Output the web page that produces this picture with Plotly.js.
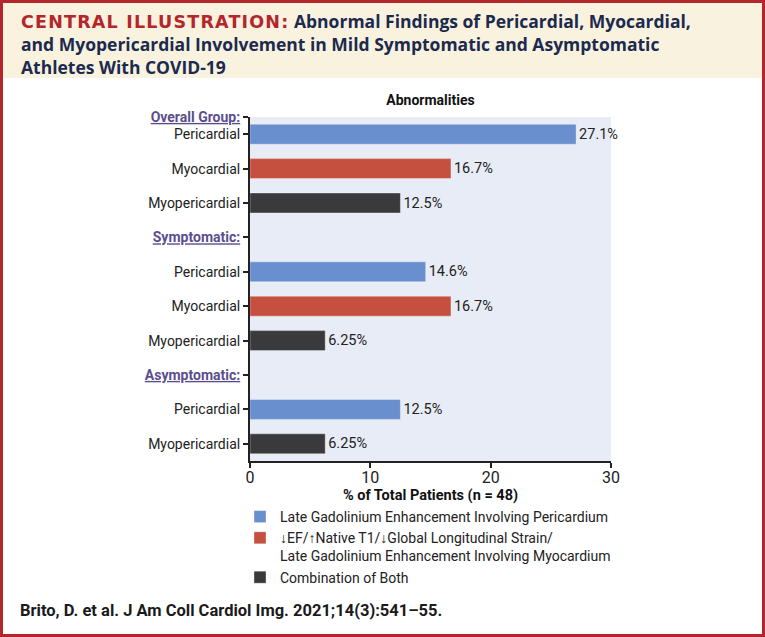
<!DOCTYPE html>
<html>
<head>
<meta charset="utf-8">
<script src="https://cdn.plot.ly/plotly-3.0.1.min.js"></script>
<style>
  html, body { margin: 0; padding: 0; background: #ffffff; }
  #frame { position: relative; width: 765px; height: 637px; box-sizing: border-box; border: 3px solid #b3262c; background: #ffffff; overflow: hidden; }
  #band { position: absolute; left: 0; top: 0; width: 759px; height: 75px; background: #f8f2df; }
  #chart { position: absolute; left: -3px; top: -3px; width: 765px; height: 637px; }
</style>
</head>
<body>
<div id="frame"><div id="band"></div><div id="chart"></div></div>
<script>
// ---- data ----
const rowLabels = ['Overall Group:', 'Pericardial', 'Myocardial', 'Myopericardial',
                   'Symptomatic:', 'Pericardial', 'Myocardial', 'Myopericardial',
                   'Asymptomatic:', 'Pericardial', 'Myopericardial'];
const rowIsHeader = [true, false, false, false, true, false, false, false, true, false, false];
const rowSeries = [null, 'peri', 'myo', 'comb', null, 'peri', 'myo', 'comb', null, 'peri', 'comb'];
const rowValues = [null, 27.1, 16.7, 12.5, null, 14.6, 16.7, 6.25, null, 12.5, 6.25];

const seriesKeys = ['peri', 'myo', 'comb'];
const seriesNames = ['Late Gadolinium Enhancement Involving Pericardium',
                     '↓EF/↑Native T1/↓Global Longitudinal Strain/<br>Late Gadolinium Enhancement Involving Myocardium',
                     'Combination of Both'];
const seriesColors = ['#6a8fce', '#c5503f', '#3a3a3c'];

const xTicks = [0, 10, 20, 30];
const titleText = 'Abnormalities';
const xTitle = '% of Total Patients (n = 48)';
const headerRed = 'CENTRAL ILLUSTRATION:';
const headerLines = ['Abnormal Findings of Pericardial, Myocardial,',
                     'and Myopericardial Involvement in Mild Symptomatic and Asymptomatic',
                     'Athletes With COVID-19'];
const footerText = 'Brito, D. et al. J Am Coll Cardiol Img. 2021;14(3):541–55.';

// ---- layout geometry ----
const W = 765, H = 637;
const M = {l: 250, r: 154, t: 117, b: 176};
const plotW = W - M.l - M.r, plotH = H - M.t - M.b;
const xp = px => (px - M.l) / plotW;
const yp = py => (H - M.b - py) / plotH;

// row positions: first header sits on the top edge of the axis
const rowPos = rowLabels.map((_, i) => Math.max(i - 1, -0.5));

const traces = seriesKeys.map((key, s) => {
  const ys = [], xs = [], txt = [];
  rowSeries.forEach((k, i) => {
    if (k === key) { ys.push(rowPos[i]); xs.push(rowValues[i]); txt.push(rowValues[i] + '%'); }
  });
  return {
    type: 'bar', orientation: 'h', x: xs, y: ys, name: seriesNames[s],
    marker: {color: seriesColors[s], line: {color: 'rgba(255,255,255,0.35)', width: 1}},
    width: 0.58, text: txt, textposition: 'outside', cliponaxis: false,
    textfont: {family: 'Roboto, sans-serif', size: 14.5, color: '#222'},
    hoverinfo: 'x+y'
  };
});

const tickText = rowLabels.map((t, i) => rowIsHeader[i]
  ? '<span style="color:#5a4e8e"><b><u>' + t + '</u></b></span>' : t);

const font = 'Roboto, "Open Sans", sans-serif';
const headerHtml = '<b><span style="color:#b3262c;font-family:\'DejaVu Sans\';letter-spacing:1.2px">' +
  headerRed + '</span> ' + headerLines.join('<br>') + '</b>';
const annotations = [
  {
    xref: 'paper', yref: 'paper', x: xp(19), y: yp(7), xanchor: 'left', yanchor: 'top',
    text: headerHtml, showarrow: false, align: 'left',
    font: {family: '"Open Sans", Roboto, sans-serif', size: 17.5, color: '#1b2a4e'}
  },
  {
    xref: 'paper', yref: 'paper', x: xp(18), y: yp(610), xanchor: 'left', yanchor: 'middle',
    text: '<b>' + footerText + '</b>', showarrow: false,
    font: {family: font, size: 16.5, color: '#1a1a1a'}
  }
];

const layout = {
  width: W, height: H,
  margin: M,
  paper_bgcolor: 'rgba(0,0,0,0)',
  plot_bgcolor: '#e8ecf6',
  barmode: 'overlay',
  showlegend: true,
  font: {family: font, size: 14, color: '#222'},
  title: {text: '<b>' + titleText + '</b>', xref: 'paper', x: 0.5, xanchor: 'center',
          yref: 'container', y: 1 - 100 / H, yanchor: 'middle',
          font: {family: font, size: 14, color: '#111'}},
  xaxis: {range: [0, 30], tickvals: xTicks, ticks: 'outside', ticklen: 5, tickwidth: 2,
          tickcolor: '#222', showline: true, linewidth: 2, linecolor: '#222',
          showgrid: false, zeroline: false, tickfont: {size: 16, color: '#222'},
          ticklabelstandoff: -4,
          title: {text: '<b>' + xTitle + '</b>', standoff: 2, font: {size: 14.5, color: '#111'}}},
  yaxis: {range: [9.5, -0.5], tickvals: rowPos, ticktext: tickText, ticks: 'outside',
          ticklen: 5, tickwidth: 1.5, tickcolor: '#222', showline: true, linewidth: 2,
          linecolor: '#222', showgrid: false, zeroline: false, ticklabelstandoff: 0,
          tickfont: {size: 14, color: '#222'}},
  legend: {x: xp(240), y: yp(501), xanchor: 'left', yanchor: 'top', valign: 'top',
           bgcolor: 'rgba(0,0,0,0)', font: {size: 14, color: '#222'}, tracegroupgap: 0},
  annotations: annotations
};

Plotly.newPlot('chart', traces, layout, {displayModeBar: false, staticPlot: false});
</script>
</body>
</html>
